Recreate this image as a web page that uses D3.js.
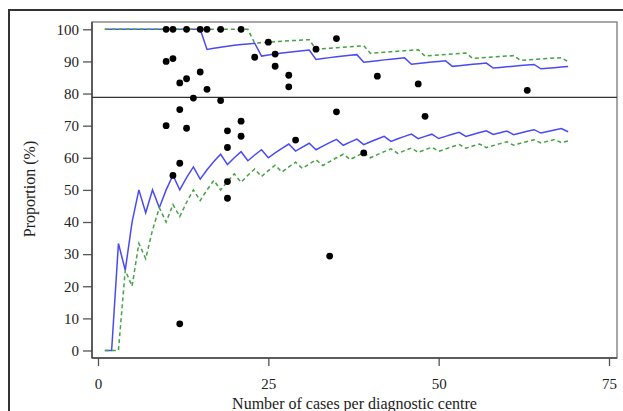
<!DOCTYPE html>
<html>
<head>
<meta charset="utf-8">
<script src="https://cdn.jsdelivr.net/npm/d3@7"></script>
<style>
  body { margin: 0; background: #fff; }
  text { font-family: "Liberation Serif", "Times New Roman", serif; fill: #222; }
</style>
</head>
<body>
<div id="funnel"></div>
<script>
// Centre sizes for the control limits
const limitCases = [1, 2, 3, 4, 5, 6, 7, 8, 9, 10, 11, 12, 13, 14, 15, 16, 17, 18, 19, 20,
    21, 22, 23, 24, 25, 26, 27, 28, 29, 30, 31, 32, 33, 34, 35, 36, 37, 38, 39, 40,
    41, 42, 43, 44, 45, 46, 47, 48, 49, 50, 51, 52, 53, 54, 55, 56, 57, 58, 59, 60,
    61, 62, 63, 64, 65, 66, 67, 68, 69];

// 95% limits (blue, solid)
const upper95 = [100, 100, 100, 100, 100, 100, 100, 100, 100, 100, 100, 100, 100, 100, 100,
    93.75, 94.12, 94.44, 94.74, 95, 95.24, 95.45, 95.65,
    91.67, 92, 92.31, 92.59, 92.86, 93.1, 93.33, 93.55,
    90.63, 90.91, 91.18, 91.43, 91.67, 91.89, 92.11,
    89.74, 90, 90.24, 90.48, 90.7, 90.91, 91.11,
    89.13, 89.36, 89.58, 89.8, 90, 90.2,
    88.46, 88.68, 88.89, 89.09, 89.29, 89.47,
    87.93, 88.14, 88.33, 88.52, 88.71, 88.89, 89.06,
    87.69, 87.88, 88.06, 88.24, 88.41];
const lower95 = [0, 0, 33.33, 25, 40, 50, 42.86, 50, 44.44, 50, 54.55, 50, 53.85, 57.14, 53.33,
    56.25, 58.82, 61.11, 57.89, 60, 61.9, 59.09, 60.87, 62.5, 60, 61.54, 62.96, 64.29, 62.07, 63.33,
    64.52, 62.5, 63.64, 64.71, 65.71, 63.89, 64.86, 65.79, 64.1, 65, 65.85, 66.67, 65.12, 65.91, 66.67,
    67.39, 65.96, 66.67, 67.35, 66, 66.67, 67.31, 67.92, 66.67, 67.27, 67.86, 68.42, 67.24, 67.8, 68.33,
    67.21, 67.74, 68.25, 68.75, 67.69, 68.18, 68.66, 69.12, 68.12];

// 99% limits (green, dashed)
const upper99 = [100, 100, 100, 100, 100, 100, 100, 100, 100, 100, 100, 100, 100, 100, 100,
    100, 100, 100, 100, 100, 100, 100,
    95.65, 95.83, 96, 96.15, 96.3, 96.43, 96.55, 96.67, 96.77,
    93.75, 93.94, 94.12, 94.29, 94.44, 94.59, 94.74, 94.87,
    92.5, 92.68, 92.86, 93.02, 93.18, 93.33, 93.48, 93.62,
    91.67, 91.84, 92, 92.16, 92.31, 92.45, 92.59,
    90.91, 91.07, 91.23, 91.38, 91.53, 91.67, 91.8,
    90.32, 90.48, 90.63, 90.77, 90.91, 91.04, 91.18,
    89.86];
const lower99 = [0, 0, 0, 25, 20, 33.33, 28.57, 37.5, 44.44, 40, 45.45, 41.67, 46.15, 50, 46.67,
    50, 52.94, 50, 52.63, 55, 52.38, 54.55, 56.52, 54.17, 56, 57.69, 55.56, 57.14, 58.62, 56.67,
    58.06, 59.38, 57.58, 58.82, 60, 61.11, 59.46, 60.53, 61.54, 60, 60.98, 61.9, 62.79, 61.36, 62.22,
    63.04, 61.7, 62.5, 63.27, 62, 62.75, 63.46, 64.15, 62.96, 63.64, 64.29, 63.16, 63.79, 64.41, 65,
    63.93, 64.52, 65.08, 65.63, 64.62, 65.15, 65.67, 64.71, 65.22];

// Overall proportion (target line)
const overall = 78.8;

// One dot per diagnostic centre
const centreCases = [10, 11, 13, 15, 16, 18, 21,
    10, 11, 12, 13, 15, 16, 14, 18, 12, 23, 25, 21, 10, 13, 19, 21, 19, 12, 11, 19, 19, 12,
    26, 26, 28, 28, 32, 35, 41, 47, 35, 48, 63, 29, 39, 34];
const centrePct = [100, 100, 100, 100, 100, 100, 100,
    90, 90.9, 83.3, 84.6, 86.7, 81.3, 78.6, 77.8, 75, 91.3, 96, 71.4, 70, 69.2, 68.4, 66.7, 63.2, 58.3, 54.5, 52.6, 47.4, 8.3,
    92.3, 88.5, 85.7, 82.1, 93.8, 97.1, 85.4, 83, 74.3, 72.9, 81, 65.5, 61.5, 29.4];

const xTicks = [0, 25, 50, 75];
const yTicks = [0, 10, 20, 30, 40, 50, 60, 70, 80, 90, 100];

const width = 623, height = 411;
const box = { left: 92, top: 22, right: 617, bottom: 358 };

const svg = d3.select("#funnel")
    .append("svg")
    .attr("width", width)
    .attr("height", height);

// outer frame (runs off the page on the right and bottom)
svg.append("rect")
    .attr("x", 9)
    .attr("y", 10)
    .attr("width", 700)
    .attr("height", 500)
    .attr("fill", "#fff")
    .attr("stroke", "#333")
    .attr("stroke-width", 2);

const x = d3.scaleLinear().domain([0, 75]).range([98, 609]);
const y = d3.scaleLinear().domain([0, 100]).range([350.5, 29.3]);

// plot box
svg.append("rect")
    .attr("x", box.left)
    .attr("y", box.top)
    .attr("width", box.right - box.left)
    .attr("height", box.bottom - box.top)
    .attr("fill", "none")
    .attr("stroke", "#8a8a8a")
    .attr("stroke-width", 1.5);

// axes
const yAxis = svg.append("g")
    .attr("transform", `translate(${box.left},0)`)
    .call(d3.axisLeft(y).tickValues(yTicks).tickSize(9).tickPadding(4));

const xAxis = svg.append("g")
    .attr("transform", `translate(0,${box.bottom})`)
    .call(d3.axisBottom(x).tickValues(xTicks).tickSize(8).tickPadding(12));

[yAxis, xAxis].forEach(function (g) {
    g.select(".domain").remove();
    g.selectAll("line").attr("stroke", "#555").attr("stroke-width", 1.3);
    g.selectAll("text")
        .attr("font-family", "Liberation Serif")
        .attr("font-size", 15)
        .attr("fill", "#333");
});

svg.append("line")
    .attr("x1", box.left).attr("x2", box.left)
    .attr("y1", box.top).attr("y2", box.bottom)
    .attr("stroke", "#444").attr("stroke-width", 1.5);
svg.append("line")
    .attr("x1", box.left).attr("x2", box.right)
    .attr("y1", box.bottom).attr("y2", box.bottom)
    .attr("stroke", "#444").attr("stroke-width", 1.5);

// axis titles
svg.append("text")
    .attr("x", (box.left + box.right) / 2)
    .attr("y", 409)
    .attr("text-anchor", "middle")
    .attr("font-size", 16)
    .text("Number of cases per diagnostic centre");

svg.append("text")
    .attr("transform", `translate(35,189) rotate(-90)`)
    .attr("text-anchor", "middle")
    .attr("font-size", 16)
    .text("Proportion (%)");

// target line
svg.append("line")
    .attr("x1", box.left)
    .attr("x2", box.right)
    .attr("y1", y(overall))
    .attr("y2", y(overall))
    .attr("stroke", "#333")
    .attr("stroke-width", 1.3);

// control limits
const limitLine = function (values) {
    return d3.line()
        .x((d, i) => x(limitCases[i]))
        .y(d => y(d))(values);
};

[upper95, lower95].forEach(function (values) {
    svg.append("path")
        .attr("d", limitLine(values))
        .attr("fill", "none")
        .attr("stroke", "#4a4af5")
        .attr("stroke-width", 1.5);
});

[upper99, lower99].forEach(function (values) {
    svg.append("path")
        .attr("d", limitLine(values))
        .attr("fill", "none")
        .attr("stroke", "#45a245")
        .attr("stroke-width", 1.5)
        .attr("stroke-dasharray", "4,3");
});

// centres
svg.selectAll("circle.centre")
    .data(centreCases)
    .enter()
    .append("circle")
    .attr("class", "centre")
    .attr("cx", d => x(d))
    .attr("cy", (d, i) => y(centrePct[i]))
    .attr("r", 3.4)
    .attr("fill", "#000");
</script>
</body>
</html>
